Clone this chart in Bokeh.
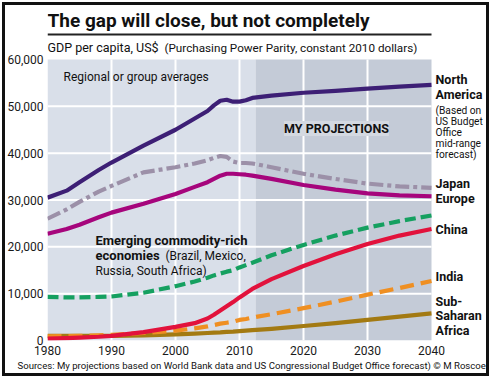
from bokeh.plotting import figure
from bokeh.models import Label, BoxAnnotation, NumeralTickFormatter, FixedTicker, Range1d, Title
from bokeh.embed import file_html
from bokeh.resources import INLINE

# ---------------- data (GDP per capita, US$ PPP, constant 2010) ----------------
years = [1980, 1983, 1985, 1988, 1990, 1995, 2000, 2003, 2005, 2006, 2007,
         2008, 2009, 2010, 2011, 2012, 2015, 2020, 2025, 2030, 2035, 2040]
north_america = [30500, 32000, 33800, 36400, 38000, 41600, 45000, 47400, 49000, 50200, 51200,
                 51400, 51000, 51000, 51300, 51800, 52300, 52900, 53300, 53800, 54200, 54600]
japan = [26000, 28000, 29600, 31800, 33000, 35900, 37000, 37800, 38500, 39000, 39400,
         39200, 38200, 37900, 37900, 37800, 37000, 35600, 34500, 33500, 32900, 32600]
europe = [22800, 23800, 24700, 26300, 27300, 29200, 31300, 32800, 33800, 34500, 35200,
          35600, 35600, 35500, 35400, 35200, 34500, 33200, 32200, 31400, 31000, 30800]
emerging = [9300, 9200, 9200, 9300, 9400, 10200, 11600, 12600, 13400, 13900, 14300,
            14700, 15000, 15600, 16100, 16600, 18200, 20400, 22400, 24100, 25500, 26700]
china = [400, 500, 600, 800, 1000, 1800, 2900, 3700, 4700, 5500, 6400,
         7300, 8200, 9200, 10100, 11000, 13100, 15900, 18400, 20600, 22400, 23800]
india = [900, 950, 1000, 1100, 1200, 1600, 2100, 2600, 3000, 3300, 3600,
         3800, 4000, 4400, 4600, 4900, 5600, 6900, 8300, 9800, 11200, 12700]
sub_saharan = [1000, 1000, 1000, 1000, 1000, 1100, 1300, 1450, 1600, 1700, 1750,
               1850, 1900, 2000, 2100, 2200, 2500, 3100, 3700, 4400, 5100, 5800]

projection_start = 2012.5
x_ticks = [1980, 1990, 2000, 2010, 2020, 2030, 2040]
y_ticks = [0, 10000, 20000, 30000, 40000, 50000, 60000]

FONT = "Roboto"
X0, X1 = x_ticks[0], x_ticks[-1]
Y0, Y1 = y_ticks[0], y_ticks[-1]

# canvas 491x378 at page (0,0); frame spans x 47..486, y 5..340
W, H = 491, 378
BL, BR, BT, BB = 47, 5, 5, 38
FW, FH = W - BL - BR, H - BT - BB
px_per_year = 384 / (X1 - X0)      # 1980..2040 -> 384 px
px_per_unit = 281 / (Y1 - Y0)      # 0..60000   -> 281 px
p = figure(width=W, height=H, output_backend="svg", toolbar_location=None,
           x_range=Range1d(X0, X0 + FW / px_per_year), y_range=Range1d(Y0, Y0 + FH / px_per_unit),
           min_border_left=BL, min_border_right=BR, min_border_top=BT, min_border_bottom=BB)
# outer black frame of the graphic, seen through the transparent canvas
p.styles = {"background-color": "white",
            "box-shadow": "inset 0 0 0 2px #ffffff, inset 0 0 0 5px #111111"}
p.outline_line_color = None
p.background_fill_alpha = 0
p.border_fill_alpha = 0
p.grid.visible = False

p.xaxis.ticker = FixedTicker(ticks=x_ticks)
p.yaxis.ticker = FixedTicker(ticks=y_ticks)
p.yaxis.formatter = NumeralTickFormatter(format="0,0")
for ax in (p.xaxis[0], p.yaxis[0]):
    ax.axis_line_color = None
    ax.major_tick_line_color = None
    ax.minor_tick_line_color = None
    ax.major_tick_out = 0
    ax.major_tick_in = 0
    ax.minor_tick_out = 0
    ax.major_label_text_font = FONT
    ax.major_label_text_font_size = "12px"
    ax.major_label_text_color = "#1a1a1a"
p.xaxis.major_label_standoff = 5
p.yaxis.major_label_standoff = 4

# plot-area backgrounds (history / projections)
p.add_layout(BoxAnnotation(left=X0, right=projection_start, bottom=Y0, top=Y1,
                           fill_color="#d9dfe9", fill_alpha=1, line_color=None, level="image"))
p.add_layout(BoxAnnotation(left=projection_start, right=X1, bottom=Y0, top=Y1,
                           fill_color="#c4cbd7", fill_alpha=1, line_color=None, level="image"))

# white grid lines inside the data area
vx = x_ticks[1:-1]
hy = y_ticks[1:-1]
p.segment(x0=vx, y0=[Y0] * len(vx), x1=vx, y1=[Y1] * len(vx), line_color="white", line_width=2)
p.segment(x0=[X0] * len(hy), y0=hy, x1=[X1] * len(hy), y1=hy, line_color="white", line_width=2)

LW = 4.2
p.line(years, sub_saharan, line_width=LW, color="#a37a12", line_join="round")
p.line(years, india, line_width=LW, color="#ef8f22", line_dash="14 7", line_join="round")
p.line(years, china, line_width=LW, color="#e2123c", line_join="round")
p.line(years, emerging, line_width=LW, color="#15a060", line_dash="11 5", line_join="round")
p.line(years, europe, line_width=LW, color="#a6057c", line_join="round")
p.line(years, japan, line_width=LW, color="#9c90a8", line_dash="14 4 4 4", line_join="round")
p.line(years, north_america, line_width=LW, color="#3d1f75", line_join="round")

FL, FB = BL, H - BB  # frame left / frame bottom in page pixels


def lab(text, ax, ay, size, bold=False, align="left", color="#111", **kw):
    l = Label(x=ax - FL, y=FB - ay, x_units="screen", y_units="screen", text=text,
              text_font=FONT, text_font_size=f"{size}px", text_color=color,
              text_font_style="bold" if bold else "normal", text_align=align,
              text_baseline="middle", **kw)
    p.add_layout(l)


lab("The gap will close, but not completely", 47, 20, 19, bold=True)
p.add_layout(BoxAnnotation(left=0, right=384, top=FB - 33, bottom=FB - 35,
                           left_units="screen", right_units="screen",
                           top_units="screen", bottom_units="screen",
                           fill_color="#222", fill_alpha=1, line_color=None))
lab("GDP per capita, US$", 47, 47, 12.5)
lab("(Purchasing Power Parity, constant 2010 dollars)", 164, 47, 11.7)
lab("Regional or group averages", 63, 76, 12)
lab("MY PROJECTIONS", 336, 128, 12.5, bold=True, align="center",
    background_fill_color="#d4d9e1", background_fill_alpha=1)
lab("Emerging commodity-rich", 95, 240, 13, bold=True)
lab("economies", 95, 255, 13, bold=True)
lab("(Brazil, Mexico,", 165, 255, 12)
lab("Russia, South Africa)", 95, 270, 12)

RX = 435
RS = 12.5
lab("North", RX, 79, RS, bold=True)
lab("America", RX, 94, RS, bold=True)
for i, t in enumerate(["(Based on", "US Budget", "Office", "mid-range", "forecast)"]):
    lab(t, RX, 110 + i * 11, 10.2)
lab("Japan", RX, 183, RS, bold=True)
lab("Europe", RX, 198, RS, bold=True)
lab("China", RX, 229, RS, bold=True)
lab("India", RX, 276, RS, bold=True)
lab("Sub-", RX, 301, RS, bold=True)
lab("Saharan", RX, 315, RS, bold=True)
lab("Africa", RX, 330, RS, bold=True)

p.add_layout(Title(text="Sources: My projections based on World Bank data and US Congressional Budget Office forecast) \u00a9 M Roscoe",
                   align="left", offset=-30, standoff=0, text_font=FONT, text_font_size="9.6px",
                   text_font_style="normal", text_color="#111"), "below")

open("out.html", "w").write(file_html(p, INLINE))
